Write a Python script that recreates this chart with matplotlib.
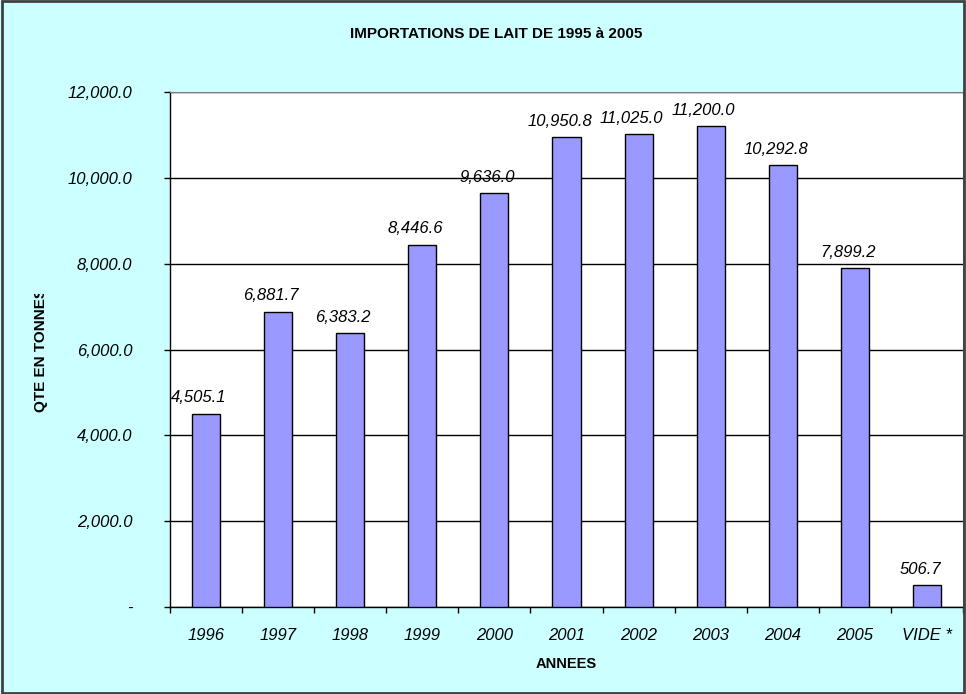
import matplotlib
matplotlib.use("Agg")
import matplotlib.pyplot as plt
from matplotlib.patches import Rectangle
from matplotlib.ticker import FixedLocator

categories = ["1996", "1997", "1998", "1999", "2000", "2001", "2002", "2003", "2004", "2005", "VIDE *"]
values = [4505.1, 6881.7, 6383.2, 8446.6, 9636.0, 10950.8, 11025.0, 11200.0, 10292.8, 7899.2, 506.7]
yticks = [0, 2000, 4000, 6000, 8000, 10000, 12000]
ytick_labels = ["-", "2,000.0", "4,000.0", "6,000.0", "8,000.0", "10,000.0", "12,000.0"]

plt.rcParams['font.family'] = ['Liberation Sans', 'DejaVu Sans']

W, H = 966, 694
fig = plt.figure(figsize=(W / 100, H / 100), dpi=100, facecolor="#CCFFFF")
fig.patches.append(Rectangle((0.002, 0.002), 0.996, 0.996, transform=fig.transFigure,
                             fill=False, edgecolor="#404040", linewidth=2.0))

left, right, top, bottom = 170, 963, 92, 607
ax = fig.add_axes([left / W, 1 - bottom / H, (right - left) / W, (bottom - top) / H])
ax.set_facecolor("white")

x = list(range(len(categories)))
bars = ax.bar(x, values, width=0.39, color="#9999FF", edgecolor="black", linewidth=1.0, zorder=3)

ax.set_xlim(-0.5, len(categories) - 0.5)
ax.set_ylim(0, 12000)
ax.set_yticks(yticks)
ax.set_yticklabels(ytick_labels, fontstyle="italic", fontsize=12)
ax.set_xticks(x)
ax.set_xticklabels(categories, fontstyle="italic", fontsize=12)
ax.tick_params(axis="x", which="major", length=0, pad=15)
ax.xaxis.set_minor_locator(FixedLocator([i - 0.5 for i in range(len(categories) + 1)]))
ax.tick_params(axis="x", which="minor", length=4, direction="out", width=1)
ax.tick_params(axis="y", length=4, direction="out", width=1, pad=23)
ax.yaxis.grid(True, color="black", linewidth=1.0, zorder=0)
ax.set_axisbelow(True)

for s in ["top", "right"]:
    ax.spines[s].set_color("#808080")
for s in ["left", "bottom"]:
    ax.spines[s].set_color("black")
    ax.spines[s].set_linewidth(1.0)

for xi, v in zip(x, values):
    t = ax.annotate(f"{v:,.1f}", (xi, v), xytext=(-5, 6), textcoords="offset points",
                    ha="center", va="bottom", fontsize=12, fontstyle="italic")
    t.set_clip_on(True)

fig.text(496 / W, 1 - 34 / H, "IMPORTATIONS DE LAIT DE 1995 à 2005",
         ha="center", va="center", fontsize=11, fontweight="bold")
fig.text(566 / W, 1 - 664 / H, "ANNEES",
         ha="center", va="center", fontsize=10.5, fontweight="bold")
ylab = fig.text(41 / W, 1 - 350 / H, "QTE EN TONNES", rotation=90,
                ha="center", va="center", fontsize=11, fontweight="bold")
clip = Rectangle((0, 0), 160 / W, 1 - 294 / H, transform=fig.transFigure,
                 facecolor="none", edgecolor="none")
ylab.set_clip_path(clip)

fig.savefig("out.png", dpi=100, facecolor=fig.get_facecolor())
